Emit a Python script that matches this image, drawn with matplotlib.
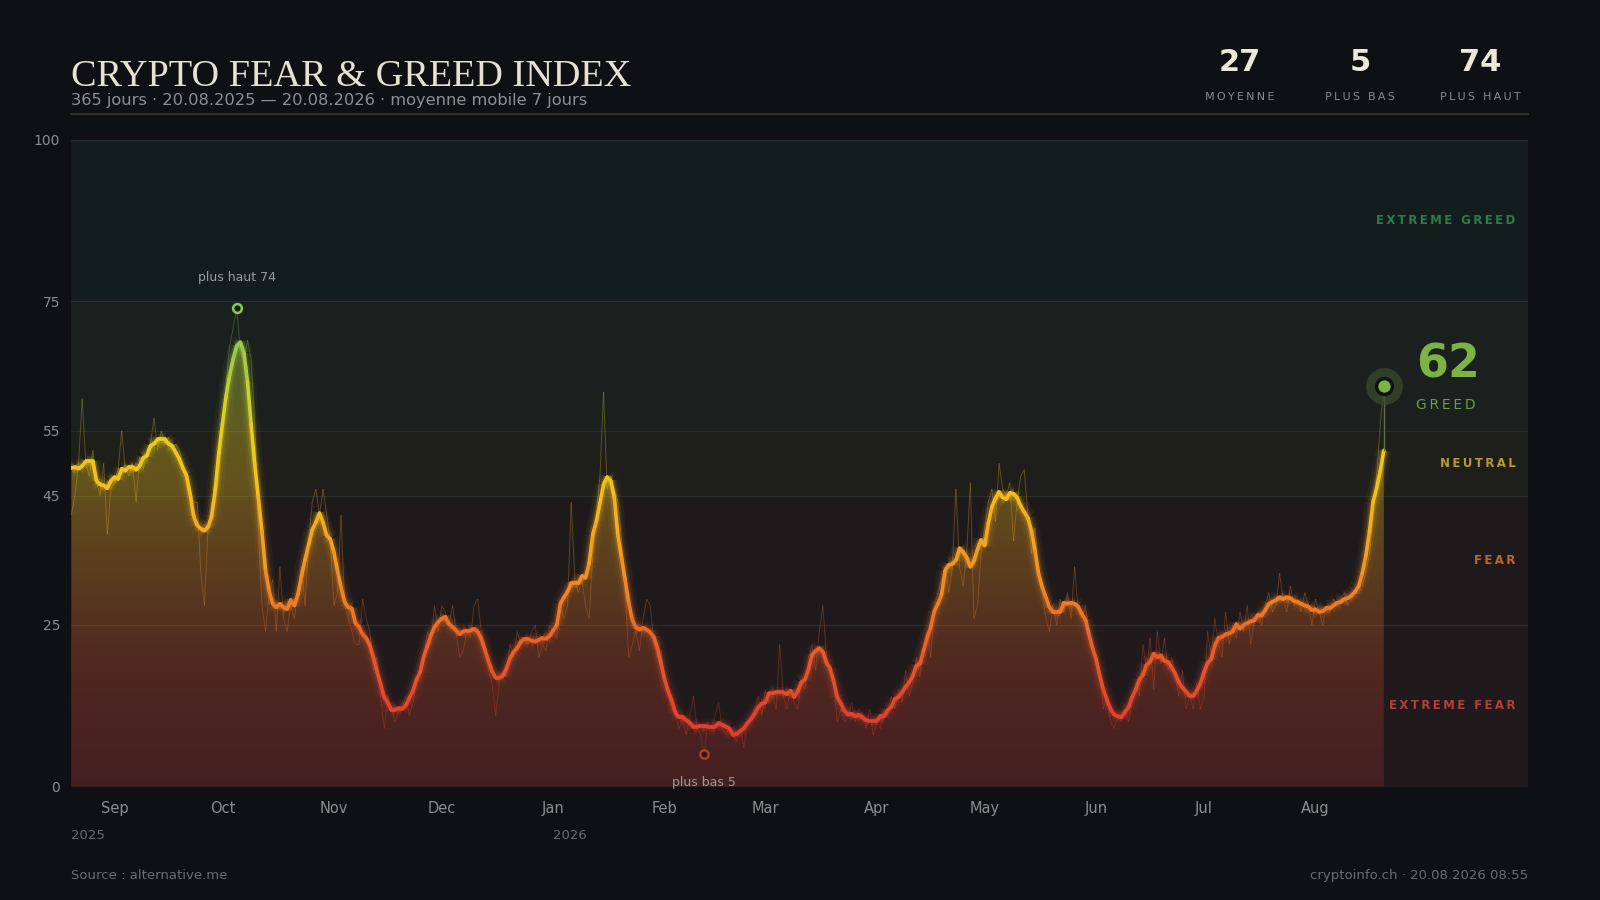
import numpy as np
import pandas as pd
import matplotlib
matplotlib.use("Agg")
import matplotlib.pyplot as plt
import matplotlib.dates as mdates
import matplotlib.transforms as mtransforms
from matplotlib.collections import LineCollection
from matplotlib.colors import LinearSegmentedColormap, Normalize

# ---- data ----
start_date = "2025-08-20"
daily_values = [
    42, 45, 50, 60, 50, 48, 52, 47, 45, 50,
    39, 46, 47, 49, 55, 49, 48, 50, 44, 51,
    49, 52, 53, 57, 52, 55, 53, 54, 52, 53,
    52, 50, 48, 46, 44, 44, 33, 28, 40, 44,
    44, 48, 55, 62, 68, 71, 74, 67, 66, 69,
    66, 56, 40, 28, 24, 30, 32, 24, 34, 26,
    24, 28, 26, 30, 34, 28, 38, 44, 46, 42,
    46, 42, 38, 28, 30, 42, 28, 26, 24, 22,
    22, 29, 26, 24, 18, 20, 14, 9, 14, 12,
    10, 12, 12, 14, 11, 13, 16, 18, 20, 24,
    22, 28, 24, 28, 27, 25, 28, 24, 20, 21,
    24, 23, 28, 29, 24, 22, 18, 16, 11, 16,
    18, 17, 22, 20, 24, 22, 23, 22, 24, 25,
    20, 22, 21, 25, 24, 23, 28, 26, 28, 44,
    32, 30, 32, 28, 26, 36, 42, 48, 61, 46,
    48, 46, 44, 38, 30, 20, 22, 24, 21, 26,
    29, 28, 22, 20, 21, 16, 14, 12, 11, 9,
    10, 8, 11, 14, 9, 8, 5, 10, 9, 11,
    13, 9, 8, 9, 8, 7, 9, 6, 10, 11,
    12, 14, 11, 15, 13, 14, 12, 22, 14, 12,
    15, 13, 12, 16, 15, 20, 22, 18, 24, 28,
    20, 18, 16, 10, 12, 10, 11, 13, 10, 12,
    11, 9, 12, 8, 10, 9, 12, 11, 14, 12,
    15, 13, 18, 14, 16, 20, 17, 22, 24, 20,
    28, 30, 32, 34, 30, 34, 46, 34, 31, 36,
    47, 26, 28, 36, 40, 44, 46, 41, 50, 46,
    45, 47, 38, 44, 48, 49, 42, 36, 40, 32,
    30, 26, 24, 28, 25, 29, 27, 30, 26, 34,
    27, 26, 28, 24, 22, 20, 18, 12, 14, 10,
    9, 11, 10, 12, 10, 13, 16, 14, 22, 18,
    23, 15, 24, 19, 23, 18, 20, 17, 14, 18,
    12, 14, 12, 16, 12, 14, 24, 20, 26, 22,
    20, 27, 22, 25, 23, 27, 24, 28, 22, 26,
    27, 25, 28, 30, 27, 28, 33, 29, 27, 31,
    28, 29, 27, 30, 28, 25, 29, 27, 25, 28,
    27, 29, 28, 29, 30, 28, 29, 30, 30, 31,
    33, 36, 42, 48, 56, 62,
]

zone_edges = [0, 25, 45, 55, 75, 100]
zone_names = ["EXTREME FEAR", "FEAR", "NEUTRAL", "GREED", "EXTREME GREED"]
zone_label_colors = ["#b23f39", "#c0672e", "#b8992e", None, "#2e7b4c"]
zone_bg = ["#201a1d", "#1e1a1c", "#1e1e1b", "#1a201e", "#141d1e"]

stat_values = ["27", "5", "74"]
stat_labels = ["MOYENNE", "PLUS BAS", "PLUS HAUT"]

y_ticks = [0, 25, 45, 55, 75, 100]
month_labels = ["Sep", "Oct", "Nov", "Dec", "Jan", "Feb", "Mar", "Apr",
                "May", "Jun", "Jul", "Aug"]
year_labels = ["2025", "2026"]

BG = "#0e1014"
GREY = "#8c8c8c"

dates = pd.date_range(start_date, periods=len(daily_values), freq="D")
raw = pd.Series(daily_values, index=dates, dtype=float)
ma = raw.rolling(7, center=True, min_periods=1).mean()
x = mdates.date2num(dates)
yv = ma.values

cmap = LinearSegmentedColormap.from_list("fg", [
    (0.00, "#d9382f"), (0.12, "#e0452e"), (0.22, "#e8602a"),
    (0.30, "#ef8526"), (0.38, "#f3a422"), (0.46, "#f4bf1f"),
    (0.53, "#eacb22"), (0.60, "#c8d032"), (0.68, "#9cc84a"),
    (0.76, "#7bbf4e"), (1.00, "#3f9f5a")])
norm = Normalize(0, 100)


def spaced(s):
    return "\u2009".join(s)


fig = plt.figure(figsize=(16, 9), dpi=100, facecolor=BG)
ax = fig.add_axes([0.0446, 0.1259, 0.9102, 0.7188])
ax.set_facecolor(BG)

# zone bands
for i in range(len(zone_names)):
    ax.axhspan(zone_edges[i], zone_edges[i + 1], color=zone_bg[i], lw=0, zorder=0)
for e in zone_edges[1:]:
    ax.axhline(e, color="#2b2f2e", lw=0.8, zorder=0.5)

# gradient fill under the moving average
vals = np.linspace(0, 100, 256)
grad = cmap(norm(vals))
grad[:, 3] = 0.2 + 0.16 * np.clip(vals / 60, 0, 1)
grad = grad.reshape(256, 1, 4)
poly = ax.fill_between(x, yv, 0, facecolor="none", edgecolor="none")
im = ax.imshow(grad, extent=[x[0], x[-1], 0, 100], origin="lower",
               aspect="auto", zorder=1, interpolation="bilinear")
im.set_clip_path(poly.get_paths()[0], transform=ax.transData)

# raw daily line (faint)
pts_raw = np.column_stack([x, raw.values])
segs_raw = np.stack([pts_raw[:-1], pts_raw[1:]], axis=1)
c_raw = cmap(norm((raw.values[:-1] + raw.values[1:]) / 2))
ax.add_collection(LineCollection(segs_raw, colors=c_raw, linewidths=0.7,
                                 alpha=0.3, zorder=2))

# moving average with glow
pts = np.column_stack([x, yv])
segs = np.stack([pts[:-1], pts[1:]], axis=1)
cols = cmap(norm((yv[:-1] + yv[1:]) / 2))
for lw, a in [(12, 0.05), (8, 0.1), (5, 0.22)]:
    ax.add_collection(LineCollection(segs, colors=cols, linewidths=lw, alpha=a,
                                     capstyle="butt", joinstyle="round", zorder=3))
ax.add_collection(LineCollection(segs, colors=cols, linewidths=2.6,
                                 capstyle="round", joinstyle="round", zorder=4))

# zone labels on the right
blend = mtransforms.blended_transform_factory(ax.transAxes, ax.transData)
for i, name in enumerate(zone_names):
    if zone_label_colors[i] is None:
        continue
    mid = (zone_edges[i] + zone_edges[i + 1]) / 2
    ax.text(0.9916, mid, spaced(name), transform=blend, ha="right", va="center",
            color=zone_label_colors[i], fontsize=8.5, fontweight="bold", zorder=5)

# high / low markers
imax = int(np.argmax(raw.values))
imin = int(np.argmin(raw.values))
ax.scatter([x[imax]], [raw.values[imax]], s=40, facecolor="#1a201e",
           edgecolor="#8fc552", lw=1.8, zorder=6)
ax.annotate(f"plus haut {int(raw.values[imax])}", (x[imax], raw.values[imax]),
            xytext=(0, 22), textcoords="offset points", ha="center", va="center",
            color="#9a9a9a", fontsize=9, zorder=6)
ax.scatter([x[imin]], [raw.values[imin]], s=36, facecolor="#2a1a1c",
           edgecolor="#c0392b", lw=1.6, zorder=6)
ax.annotate(f"plus bas {int(raw.values[imin])}", (x[imin], raw.values[imin]),
            xytext=(0, -20), textcoords="offset points", ha="center", va="center",
            color="#9a9a9a", fontsize=9, zorder=6)

# current value marker
cur = raw.values[-1]
ax.plot([x[-1], x[-1]], [yv[-1], cur], color="#5f6d47", lw=1, zorder=5)
ax.scatter([x[-1]], [cur], s=700, color="#3b4a2c", alpha=0.75, lw=0, zorder=6)
ax.scatter([x[-1]], [cur], s=130, facecolor="#7cb342", edgecolor="#0f130e",
           lw=2.5, zorder=7)
ax.annotate(f"{int(cur)}", (x[-1], cur), xytext=(23, 15), textcoords="offset points",
            ha="left", va="center", color="#7cb342", fontsize=33,
            fontweight="bold", zorder=7)
ax.annotate(spaced("GREED"), (x[-1], cur), xytext=(23, -14),
            textcoords="offset points", ha="left", va="center",
            color="#6f9a4a", fontsize=10, zorder=7)

# axes
ax.set_xlim(x[0], x[0] + 405)
ax.set_ylim(0, 100)
for s in ax.spines.values():
    s.set_visible(False)
ax.set_yticks(y_ticks)
ax.set_yticklabels([str(t) for t in y_ticks])
month_ticks = pd.date_range("2025-09-01", periods=len(month_labels), freq="MS")
ax.set_xticks(mdates.date2num(month_ticks))
ax.set_xticklabels(month_labels)
ax.tick_params(axis="y", length=0, pad=8, colors=GREY, labelsize=10)
ax.tick_params(axis="x", length=0, pad=10, colors=GREY, labelsize=10.5)

blend_x = mtransforms.blended_transform_factory(ax.transData, ax.transAxes)
year_pos = [x[0], mdates.date2num(pd.Timestamp("2026-01-01"))]
for xp, lab in zip(year_pos, year_labels):
    ax.text(xp, -0.076, lab, transform=blend_x, ha="left", va="center",
            color="#6a6a6a", fontsize=9.5)

# header
fig.text(0.0446, 0.905, "CRYPTO FEAR & GREED INDEX", family="Liberation Serif",
         fontsize=27.5, color="#e6e1d3", va="baseline")
fig.text(0.0446, 0.888, "365 jours · 20.08.2025 — 20.08.2026 · moyenne mobile 7 jours",
         fontsize=11.7, color="#8f8f8f", va="center")
fig.add_artist(plt.Line2D([0.0446, 0.9548], [0.873, 0.873], color="#3d382b", lw=1.2))

stat_x = [0.775, 0.85, 0.925]
for sx, v, lab in zip(stat_x, stat_values, stat_labels):
    fig.text(sx, 0.931, v, ha="center", va="center", fontsize=22,
             fontweight="bold", color="#ece8dc")
    fig.text(sx, 0.892, spaced(lab), ha="center", va="center", fontsize=8,
             color="#8a8a8a")

# footer
fig.text(0.0446, 0.027, "Source : alternative.me", fontsize=9.5, color="#6c6c6c",
         va="center")
fig.text(0.9548, 0.027, "cryptoinfo.ch · 20.08.2026 08:55", fontsize=9.5,
         color="#6c6c6c", va="center", ha="right")

fig.savefig("out.png", dpi=100, facecolor=BG)
